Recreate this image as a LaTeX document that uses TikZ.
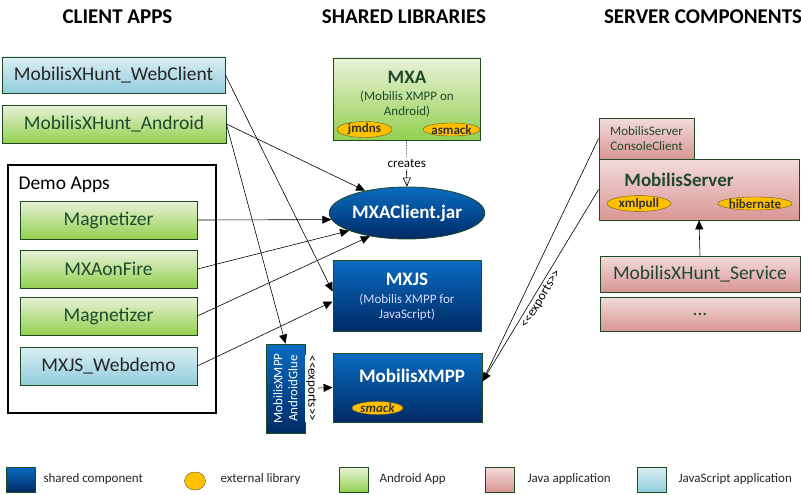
\documentclass[tikz,border=0pt]{standalone}
\usepackage{fontspec}
\setmainfont{Carlito}
\usetikzlibrary{shapes.geometric,arrows.meta}
\definecolor{boxline}{HTML}{1E4A24}
\definecolor{grtop}{HTML}{E8F2D8}
\definecolor{grbot}{HTML}{92D050}
\definecolor{bltop}{HTML}{DAEEF3}
\definecolor{blbot}{HTML}{92CDDC}
\definecolor{rdtop}{HTML}{F2DCDB}
\definecolor{rdbot}{HTML}{D99694}
\definecolor{shtop}{HTML}{0A6CC0}
\definecolor{shbot}{HTML}{002A66}
\definecolor{grtext}{HTML}{1F4A2A}
\definecolor{libfill}{HTML}{FFC000}
\definecolor{libline}{HTML}{6B5A1E}
\begin{document}
\begin{tikzpicture}[x=1pt,y=-1pt,
  big/.style={font=\fontsize{19.5}{21}\selectfont},
  small/.style={font=\fontsize{13}{15}\selectfont},
  head/.style={font=\bfseries\fontsize{21}{23}\selectfont},
  box/.style={draw=boxline,line width=0.8pt,inner sep=0pt,big},
  android/.style={box,top color=grtop,bottom color=grbot,text=grtext},
  jsapp/.style={box,top color=bltop,bottom color=blbot,text=black!85},
  javaapp/.style={box,top color=rdtop,bottom color=rdbot,text=grtext},
  shared/.style={draw=boxline,line width=0.8pt,inner sep=0pt,top color=shtop,bottom color=shbot,text=white},
  extlib/.style={ellipse,draw=libline,fill=libfill,inner sep=0pt,minimum height=13pt,
    font=\bfseries\fontsize{13}{14}\selectfont,text=black!80},
  dep/.style={-{Triangle[length=9pt,width=8pt]},line width=0.6pt},
  legbox/.style={draw=boxline,line width=0.8pt,minimum width=29pt,minimum height=25pt,inner sep=0pt},
  legtext/.style={small,anchor=west,text=black!85}
]
  \useasboundingbox (0,0) rectangle (801,495);

  % Column headings
  \node[head] (h1) at (117.5,17) {CLIENT APPS};
  \node[head] (h2) at (404,17) {SHARED LIBRARIES};
  \node[head] (h3) at (703,17) {SERVER COMPONENTS};

  % Client apps
  \node[jsapp,minimum width=223pt,minimum height=36pt] (webclient) at (113.5,75) {MobilisXHunt\_WebClient};
  \node[android,minimum width=224pt,minimum height=38pt] (android) at (114,124) {MobilisXHunt\_Android};
  \node[draw=black,line width=1.5pt,fill=white,minimum width=208pt,minimum height=248pt] (demo) at (112,289) {};
  \node[big,anchor=west] (demolabel) at (15,185) {Demo Apps};
  \node[android,minimum width=177pt,minimum height=38pt] (magnet1) at (108.5,220) {Magnetizer};
  \node[android,minimum width=177pt,minimum height=38pt] (mxaonfire) at (108.5,269) {MXAonFire};
  \node[android,minimum width=177pt,minimum height=38pt] (magnet2) at (108.5,316) {Magnetizer};
  \node[jsapp,minimum width=177pt,minimum height=38pt] (webdemo) at (108.5,366) {MXJS\_Webdemo};

  % Shared libraries
  \node[android,minimum width=147pt,minimum height=82pt] (mxa) at (406.5,99) {};
  \node[font=\bfseries\fontsize{19}{21}\selectfont,text=grtext] (mxatitle) at (407,77) {MXA};
  \node[small,text=grtext,align=center] (mxasub) at (407,104) {(Mobilis XMPP on\\Android)};
  \node[extlib,minimum width=55pt] (jmdns) at (364.5,129.5) {jmdns};
  \node[extlib,minimum width=55pt] (asmack) at (451.5,129.5) {asmack};

  \node[ellipse,shared,minimum width=149pt,minimum height=52pt,
    font=\bfseries\fontsize{19}{21}\selectfont] (mxaclient) at (407,213) {MXAClient.jar};

  \node[shared,minimum width=148pt,minimum height=71pt] (mxjs) at (407,295.5) {};
  \node[font=\bfseries\fontsize{19}{21}\selectfont,text=white] (mxjstitle) at (407,279) {MXJS};
  \node[small,text=white!85!blue,align=center] (mxjssub) at (407,307) {(Mobilis XMPP for\\JavaScript)};

  \node[shared,minimum width=149pt,minimum height=69pt] (mxmpp) at (407.5,387.5) {};
  \node[font=\bfseries\fontsize{19}{21}\selectfont,text=white] (mxmpptitle) at (412,376) {MobilisXMPP};
  \node[extlib,minimum width=51pt,minimum height=12pt,font=\bfseries\itshape\fontsize{13}{14}\selectfont] (smack) at (377.5,408) {smack};

  \node[shared,minimum width=39pt,minimum height=89pt] (glue) at (285.5,388.5) {};
  \node[small,text=white,rotate=90,align=center] (gluetext) at (285.5,388.5) {MobilisXMPP\\AndroidGlue};

  % Server components
  \node[javaapp,minimum width=95pt,minimum height=41pt,small,align=center] (console) at (646.5,138.5) {MobilisServer\\ConsoleClient};
  \node[javaapp,minimum width=200pt,minimum height=61pt] (server) at (699,189.5) {};
  \node[font=\bfseries\fontsize{19}{21}\selectfont,text=grtext] (servertitle) at (679,180) {MobilisServer};
  \node[extlib,minimum width=64pt] (xmlpull) at (639,203.5) {xmlpull};
  \node[extlib,minimum width=68pt] (hibernate) at (755,203.5) {hibernate};
  \node[javaapp,minimum width=200pt,minimum height=36pt] (service) at (700,274) {MobilisXHunt\_Service};
  \node[javaapp,minimum width=200pt,minimum height=34pt] (more) at (700,314) {...};

  % Dependencies
  \draw[dep] (webclient.east) -- ([yshift=4pt]mxjs.west);
  \draw[dep] (android.east) -- (mxaclient.152);
  \draw[dep] (android.east) -- (glue.north);
  \draw[dep] (magnet1.east) -- (mxaclient.185);
  \draw[dep] (mxaonfire.east) -- (mxaclient.197);
  \draw[dep] (magnet2.east) -- (mxaclient.212);
  \draw[dep] (webdemo.east) -- ([yshift=-6pt]mxjs.west);
  \draw[dep] (glue.east) -- node[pos=0.22,rotate=-90,fill=white,inner sep=1pt,small] {{<}{<}exports{>}{>}} (mxmpp.west);
  \draw[line width=0.6pt,densely dotted] (mxa.south) -- node[fill=white,inner sep=1pt,small] {creates} (mxaclient.north);
  \draw[-{Triangle[open,length=9pt,width=8pt]},line width=0.6pt] ([yshift=-1pt]mxa.south |- 0,170) -- (mxaclient.north);
  \draw[line width=0.6pt] (console.west) -- ([yshift=6pt]mxmpp.east);
  \draw[dep] (server.west) -- node[sloped,below,pos=0.55,inner sep=2pt,small] {{<}{<}exports{>}{>}} ([yshift=6pt]mxmpp.east);
  \draw[dep] (service.north) -- (server.south);

  % Legend
  \node[legbox,top color=shtop,bottom color=shbot] (legshared) at (20.5,479.5) {};
  \node[legtext] (legsharedt) at (40,479) {shared component};
  \node[ellipse,draw=libline,fill=libfill,minimum width=21pt,minimum height=18pt,inner sep=0pt] (leglib) at (195,481) {};
  \node[legtext] (leglibt) at (217,479) {external library};
  \node[legbox,top color=grtop,bottom color=grbot] (legandroid) at (353.5,479.5) {};
  \node[legtext] (legandroidt) at (376,479) {Android App};
  \node[legbox,top color=rdtop,bottom color=rdbot] (legjava) at (500,479.5) {};
  \node[legtext] (legjavat) at (524,479) {Java application};
  \node[legbox,top color=bltop,bottom color=blbot] (legjs) at (651.5,479.5) {};
  \node[legtext] (legjst) at (675,479) {JavaScript application};
\end{tikzpicture}
\end{document}
